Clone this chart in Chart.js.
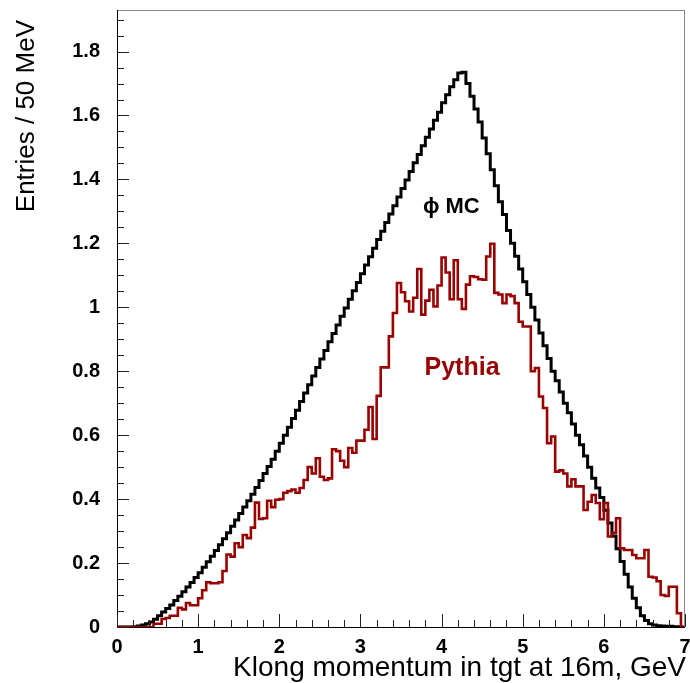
<!DOCTYPE html>
<html>
<head>
<meta charset="utf-8">
<script src="https://cdn.jsdelivr.net/npm/chart.js@4.4.1/dist/chart.umd.min.js"></script>
<style>
  html, body { margin: 0; padding: 0; background: #fff; }
  #wrap { width: 690px; height: 683px; }
</style>
</head>
<body>
<div id="wrap"><canvas id="histChart" width="690" height="683"></canvas></div>
<script>
// 140 bins of 50 MeV from 0 to 7 GeV
const binWidth = 0.05;
const xRange = [0, 7];
const yRange = [0, 1.93];
const xTicks = [0, 1, 2, 3, 4, 5, 6, 7];
const yTicks = [0, 0.2, 0.4, 0.6, 0.8, 1, 1.2, 1.4, 1.6, 1.8];

const mcValues = [
    0, 0, 0, 0, 0, 0.001, 0.003, 0.006, 0.01, 0.016,
    0.024, 0.035, 0.047, 0.058, 0.069, 0.083, 0.096, 0.11, 0.125, 0.139,
    0.155, 0.17, 0.187, 0.204, 0.221, 0.239, 0.257, 0.276, 0.295, 0.315,
    0.335, 0.355, 0.375, 0.395, 0.415, 0.436, 0.458, 0.48, 0.502, 0.525,
    0.55, 0.575, 0.6, 0.625, 0.652, 0.678, 0.705, 0.732, 0.758, 0.785,
    0.812, 0.838, 0.865, 0.892, 0.918, 0.945, 0.972, 0.998, 1.025, 1.052,
    1.078, 1.105, 1.132, 1.158, 1.185, 1.212, 1.238, 1.265, 1.292, 1.318,
    1.345, 1.372, 1.398, 1.425, 1.452, 1.478, 1.505, 1.532, 1.558, 1.585,
    1.61, 1.64, 1.665, 1.69, 1.712, 1.733, 1.735, 1.7, 1.66, 1.62,
    1.58, 1.53, 1.48, 1.43, 1.38, 1.33, 1.29, 1.24, 1.2, 1.16,
    1.12, 1.08, 1.04, 1.0, 0.96, 0.92, 0.88, 0.84, 0.8, 0.77,
    0.735, 0.7, 0.67, 0.635, 0.6, 0.57, 0.535, 0.5, 0.465, 0.435,
    0.405, 0.365, 0.325, 0.285, 0.245, 0.205, 0.165, 0.125, 0.09, 0.06,
    0.035, 0.02, 0.01, 0.006, 0.004, 0.003, 0.002, 0.002, 0.001, 0.001
];

const pythiaValues = [
    0, 0, 0, 0, 0, 0, 0, 0, 0, 0,
    0.01, 0.01, 0.025, 0.028, 0.035, 0.035, 0.06, 0.055, 0.075, 0.068,
    0.068, 0.09, 0.115, 0.14, 0.137, 0.137, 0.14, 0.175, 0.227, 0.22,
    0.262, 0.25, 0.288, 0.278, 0.311, 0.389, 0.338, 0.34, 0.395, 0.375,
    0.398, 0.4, 0.42, 0.425, 0.43, 0.42, 0.435, 0.46, 0.5, 0.48,
    0.528, 0.47, 0.46, 0.465, 0.556, 0.55, 0.52, 0.5, 0.56, 0.545,
    0.583, 0.583, 0.617, 0.688, 0.588, 0.723, 0.812, 0.812, 0.909, 0.982,
    1.076, 1.047, 1.019, 0.987, 1.03, 1.12, 0.977, 1.021, 1.055, 1.003,
    1.068, 1.156, 1.109, 1.025, 1.147, 1.025, 0.995, 1.071, 1.097, 1.095,
    1.088, 1.086, 1.159, 1.199, 1.045, 1.04, 1.013, 1.04, 1.035, 1.013,
    0.955, 0.94, 0.94, 0.8, 0.81, 0.721, 0.685, 0.575, 0.596, 0.486,
    0.49, 0.48, 0.44, 0.462, 0.44, 0.44, 0.366, 0.392, 0.413, 0.388,
    0.337, 0.388, 0.283, 0.295, 0.34, 0.246, 0.241, 0.241, 0.225, 0.215,
    0.215, 0.241, 0.157, 0.155, 0.143, 0.1, 0.097, 0.126, 0.126, 0.043
];

// step outline: one point per bin low edge, then close at the upper edge
function toSteps(values) {
    const pts = values.map((v, i) => ({ x: +(i * binWidth).toFixed(2), y: v }));
    pts.push({ x: xRange[1], y: 0 });
    return pts;
}

const FONT = '"Liberation Sans", Arial, Helvetica, sans-serif';
const RED = '#990000';

// ROOT-like frame: inward tick marks, axis titles, labels on the plot
const rootFrame = {
    id: 'rootFrame',
    afterDatasetsDraw(chart) {
        const { ctx, chartArea: a, scales: { x, y } } = chart;
        ctx.save();

        // frame
        ctx.lineWidth = 1;
        ctx.strokeStyle = '#888';
        ctx.strokeRect(a.left + 0.5, a.top + 0.5, a.right - a.left - 1, a.bottom - a.top);
        ctx.strokeStyle = '#000';
        ctx.beginPath();
        ctx.moveTo(a.left + 0.5, a.top);
        ctx.lineTo(a.left + 0.5, a.bottom + 0.5);
        ctx.lineTo(a.right, a.bottom + 0.5);
        ctx.stroke();

        // y ticks every 0.05, major every 0.2
        ctx.strokeStyle = '#222';
        ctx.beginPath();
        for (let k = 0; k * 0.05 <= yRange[1] + 1e-9; k++) {
            const py = Math.round(y.getPixelForValue(k * 0.05)) + 0.5;
            const len = k % 4 === 0 ? 12 : 7;
            ctx.moveTo(a.left, py);
            ctx.lineTo(a.left + len, py);
        }
        // x ticks every 0.2, major every 1
        for (let k = 0; k <= 35; k++) {
            const px = Math.round(x.getPixelForValue(k * 0.2)) + 0.5;
            const len = k % 5 === 0 ? 13 : 7;
            ctx.moveTo(px, a.bottom);
            ctx.lineTo(px, a.bottom - len);
        }
        ctx.stroke();

        // axis titles
        ctx.fillStyle = '#000';
        ctx.font = '26px ' + FONT;
        ctx.save();
        ctx.translate(27, 20);
        ctx.rotate(-Math.PI / 2);
        ctx.textAlign = 'right';
        ctx.textBaseline = 'middle';
        ctx.fillText('Entries / 50 MeV', 0, 0);
        ctx.restore();

        ctx.font = '28px ' + FONT;
        ctx.textAlign = 'right';
        ctx.textBaseline = 'alphabetic';
        ctx.fillText('Klong momentum in tgt at 16m, GeV', 686, 676);

        // curve labels
        ctx.textAlign = 'left';
        ctx.textBaseline = 'middle';
        ctx.font = 'bold 22px ' + FONT;
        ctx.fillStyle = '#000';
        ctx.fillText('\u03D5 MC', x.getPixelForValue(3.77), y.getPixelForValue(1.315));
        ctx.fillStyle = RED;
        ctx.font = 'bold 25px ' + FONT;
        ctx.fillText('Pythia', x.getPixelForValue(3.79), y.getPixelForValue(0.81));

        ctx.restore();
    }
};

const ctx = document.getElementById('histChart').getContext('2d');

new Chart(ctx, {
    type: 'line',
    data: {
        datasets: [
            {
                label: 'Pythia',
                data: toSteps(pythiaValues),
                stepped: 'after',
                borderColor: RED,
                borderWidth: 2.6,
                pointRadius: 0,
                fill: false
            },
            {
                label: 'MC',
                data: toSteps(mcValues),
                stepped: 'after',
                borderColor: '#000',
                borderWidth: 3,
                pointRadius: 0,
                fill: false
            }
        ]
    },
    options: {
        responsive: false,
        animation: false,
        events: [],
        layout: { padding: { left: 0, right: 5, top: 10, bottom: 0 } },
        plugins: {
            legend: { display: false },
            tooltip: { enabled: false }
        },
        scales: {
            x: {
                type: 'linear',
                min: xRange[0],
                max: xRange[1],
                border: { display: false },
                grid: { display: false, drawTicks: false },
                afterFit: s => { s.height = 56; s.paddingLeft = 0; s.paddingRight = 0; },
                afterBuildTicks: s => { s.ticks = xTicks.map(v => ({ value: v })); },
                ticks: {
                    padding: 8,
                    autoSkip: false,
                    maxRotation: 0,
                    color: '#000',
                    font: { family: FONT, size: 20, weight: 'bold' },
                    callback: v => String(v)
                }
            },
            y: {
                type: 'linear',
                min: yRange[0],
                max: yRange[1],
                border: { display: false },
                grid: { display: false, drawTicks: false },
                afterFit: s => { s.width = 117; s.paddingTop = 0; s.paddingBottom = 0; },
                afterBuildTicks: s => { s.ticks = yTicks.map(v => ({ value: v })); },
                ticks: {
                    padding: 17,
                    color: '#000',
                    font: { family: FONT, size: 20, weight: 'bold' },
                    callback: v => String(Math.round(v * 10) / 10)
                }
            }
        }
    },
    plugins: [rootFrame]
});
</script>
</body>
</html>
